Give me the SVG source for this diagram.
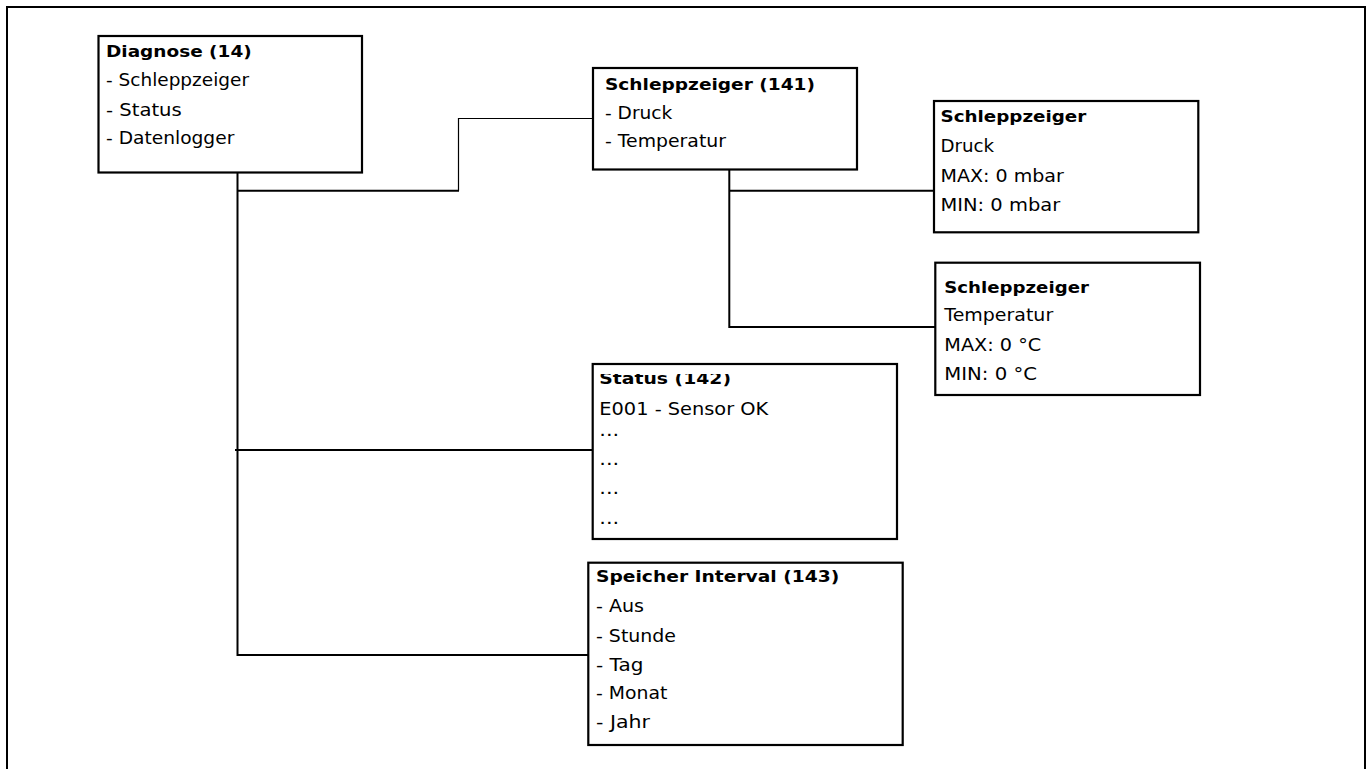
<svg xmlns="http://www.w3.org/2000/svg" width="1372" height="769" viewBox="0 0 1372 769">
  <style>
    .frame { fill: none; stroke: #000; stroke-width: 2; }
    .box { fill: #fff; stroke: #000; stroke-width: 2.2; }
    .wire { fill: none; stroke: #000; stroke-width: 2; }
    .wire-thin { fill: none; stroke: #000; stroke-width: 1.2; }
    text { font-family: "DejaVu Sans", Verdana, sans-serif; fill: #000; }
    .t { font-size: 16.5px; font-weight: bold; }
    .r { font-size: 17px; }
  </style>
  <defs>
    <clipPath id="clip-status-title">
      <rect x="590" y="374" width="310" height="30"/>
    </clipPath>
  </defs>

  <rect width="1372" height="769" fill="#fff"/>
  <!-- page border (bottom edge runs off the sheet) -->
  <rect class="frame" x="7" y="7" width="1358" height="820"/>

  <!-- connectors -->
  <g id="connectors">
    <!-- Diagnose trunk down to its three children -->
    <path class="wire" d="M237.5 172.7 V656"/>
    <path class="wire" d="M237.5 190.7 H459"/>
    <path class="wire-thin" d="M458.5 190.7 V118.5 H593"/>
    <path class="wire" d="M235 450 H592.7"/>
    <path class="wire" d="M237.5 655 H588.3"/>
    <!-- Schleppzeiger trunk down to Druck / Temperatur -->
    <path class="wire" d="M729.3 169.5 V328"/>
    <path class="wire" d="M729.3 190.7 H934"/>
    <path class="wire" d="M729.3 327 H935.3"/>
  </g>

  <g id="node-diagnose">
    <rect class="box" x="98.5" y="36" width="263.5" height="136.5"/>
    <text class="t" x="106" y="57.3" textLength="145.7" lengthAdjust="spacingAndGlyphs">Diagnose (14)</text>
    <text class="r" x="106" y="86" textLength="143" lengthAdjust="spacingAndGlyphs">- Schleppzeiger</text>
    <text class="r" x="106" y="115.5" textLength="75.7" lengthAdjust="spacingAndGlyphs">- Status</text>
    <text class="r" x="106" y="144" textLength="128.3" lengthAdjust="spacingAndGlyphs">- Datenlogger</text>
  </g>

  <g id="node-schleppzeiger">
    <rect class="box" x="593" y="68" width="264" height="101.5"/>
    <text class="t" x="605" y="90" textLength="210" lengthAdjust="spacingAndGlyphs">Schleppzeiger (141)</text>
    <text class="r" x="605" y="119" textLength="67.3" lengthAdjust="spacingAndGlyphs">- Druck</text>
    <text class="r" x="605" y="146.7" textLength="121" lengthAdjust="spacingAndGlyphs">- Temperatur</text>
  </g>

  <g id="node-druck">
    <rect class="box" x="934" y="101" width="264.3" height="131.3"/>
    <text class="t" x="940.5" y="122" textLength="145.8" lengthAdjust="spacingAndGlyphs">Schleppzeiger</text>
    <text class="r" x="940.5" y="151.7" textLength="53.6" lengthAdjust="spacingAndGlyphs">Druck</text>
    <text class="r" x="940.5" y="182" textLength="123.3" lengthAdjust="spacingAndGlyphs">MAX: 0 mbar</text>
    <text class="r" x="940.5" y="211" textLength="119.7" lengthAdjust="spacingAndGlyphs">MIN: 0 mbar</text>
  </g>

  <g id="node-temperatur">
    <rect class="box" x="935.3" y="262.7" width="264.7" height="132.3"/>
    <text class="t" x="944.3" y="292.5" textLength="144.6" lengthAdjust="spacingAndGlyphs">Schleppzeiger</text>
    <text class="r" x="944.3" y="321.3" textLength="108.9" lengthAdjust="spacingAndGlyphs">Temperatur</text>
    <text class="r" x="944.3" y="350.5" textLength="97" lengthAdjust="spacingAndGlyphs">MAX: 0 °C</text>
    <text class="r" x="944.3" y="380" textLength="92.8" lengthAdjust="spacingAndGlyphs">MIN: 0 °C</text>
  </g>

  <g id="node-status">
    <rect class="box" x="592.7" y="364" width="304.3" height="175"/>
    <text class="t" x="599.3" y="384" textLength="131.7" lengthAdjust="spacingAndGlyphs" clip-path="url(#clip-status-title)">Status (142)</text>
    <text class="r" x="599.3" y="415" textLength="169" lengthAdjust="spacingAndGlyphs">E001 - Sensor OK</text>
    <text class="r" x="599.3" y="436" textLength="20" lengthAdjust="spacingAndGlyphs">...</text>
    <text class="r" x="599.3" y="464.5" textLength="20" lengthAdjust="spacingAndGlyphs">...</text>
    <text class="r" x="599.3" y="493.5" textLength="20" lengthAdjust="spacingAndGlyphs">...</text>
    <text class="r" x="599.3" y="523.5" textLength="20" lengthAdjust="spacingAndGlyphs">...</text>
  </g>

  <g id="node-speicher">
    <rect class="box" x="588.3" y="562.7" width="314.4" height="182.3"/>
    <text class="t" x="596" y="581.7" textLength="243.3" lengthAdjust="spacingAndGlyphs">Speicher Interval (143)</text>
    <text class="r" x="596" y="612.3" textLength="48" lengthAdjust="spacingAndGlyphs">- Aus</text>
    <text class="r" x="596" y="641.7" textLength="80" lengthAdjust="spacingAndGlyphs">- Stunde</text>
    <text class="r" x="596" y="670.7" textLength="47.3" lengthAdjust="spacingAndGlyphs">- Tag</text>
    <text class="r" x="596" y="699" textLength="71.3" lengthAdjust="spacingAndGlyphs">- Monat</text>
    <text class="r" x="596" y="728.3" textLength="54" lengthAdjust="spacingAndGlyphs">- Jahr</text>
  </g>
</svg>
